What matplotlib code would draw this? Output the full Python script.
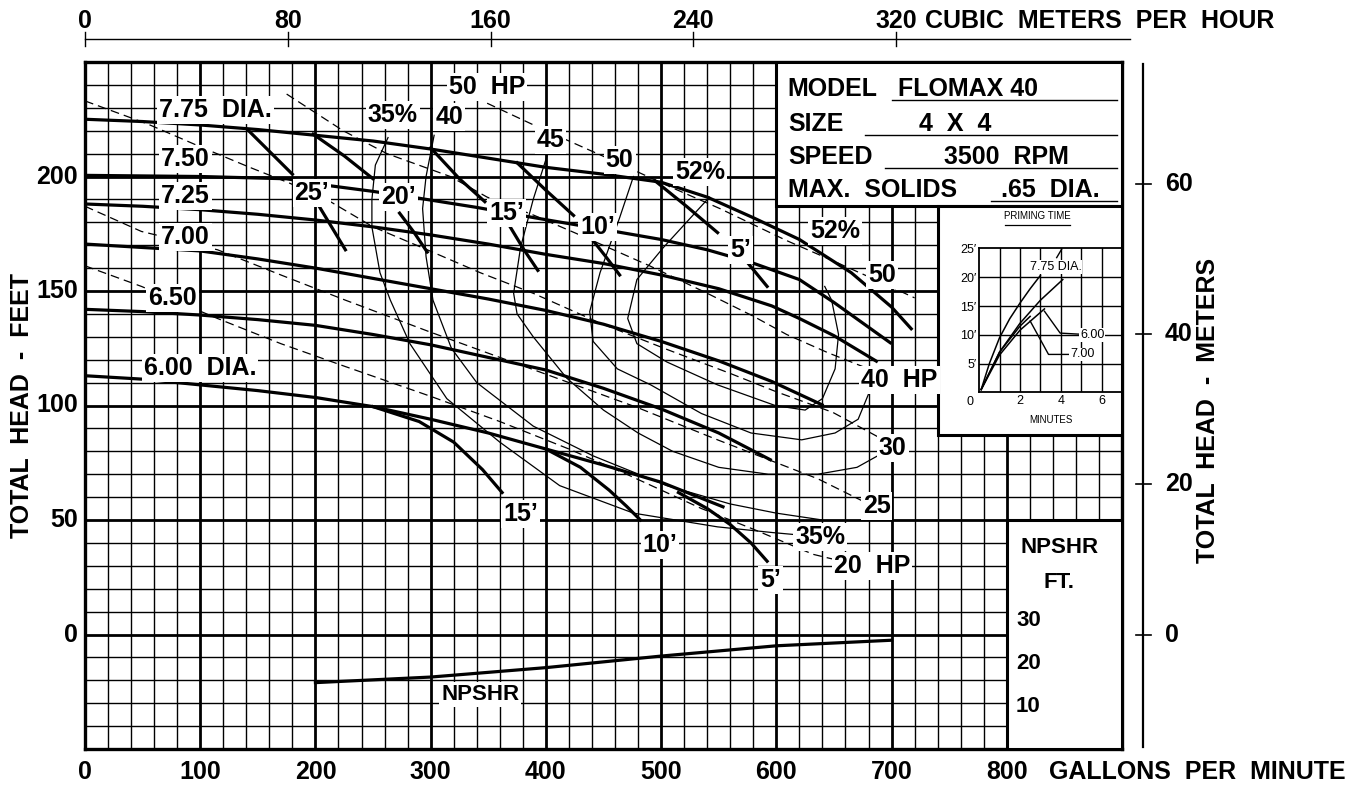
import matplotlib
matplotlib.use("Agg")
import matplotlib.pyplot as plt
from matplotlib import font_manager
from matplotlib.patches import Rectangle
import numpy as np

# ---- head / capacity curves, one per impeller diameter (gpm, ft) ----
DIA_775 = [(0, 225), (50, 224), (100, 222.5), (150, 220.5), (200, 218), (250, 215.5),
           (300, 212), (350, 208), (400, 204), (450, 201), (500, 197.5), (540, 191),
           (580, 182), (620, 172.5), (665, 158), (700, 143), (718, 133)]
DIA_750 = [(0, 200.5), (100, 200), (175, 199), (212, 196), (250, 193.5), (290, 190.5),
           (340, 186.5), (390, 182), (460, 176), (500, 172.5), (540, 168), (578, 162.5),
           (620, 155), (650, 145), (700, 127)]
DIA_725 = [(0, 188), (50, 187), (100, 185.5), (150, 183.5), (200, 181), (250, 178),
           (300, 174.5), (350, 170.5), (400, 166), (450, 162), (500, 157), (550, 151),
           (596, 143.5), (620, 138), (650, 130.5), (688, 119)]
DIA_700 = [(0, 170.5), (50, 169), (100, 167.5), (150, 164), (200, 160), (250, 155.5),
           (300, 151), (350, 146.5), (400, 141.5), (450, 135.5), (500, 128), (550, 119.5),
           (596, 110.5), (641, 100)]
DIA_650 = [(0, 142), (50, 141), (100, 139.5), (150, 137.5), (200, 135), (250, 131),
           (300, 126.5), (350, 121), (400, 115.5), (450, 107.5), (500, 98.5), (550, 88),
           (596, 76)]
DIA_600 = [(0, 113), (50, 111.5), (100, 109), (150, 106.5), (200, 103.5), (250, 99.5),
           (300, 94), (350, 88), (400, 81), (450, 74), (500, 66.5), (530, 60.5), (555, 55.5)]

# ---- NPSH required iso-lines (upper part / part below label) ----
NPSH_25 = [[(142, 220), (162, 210), (180, 201)], [(202, 188), (214, 178), (226, 168)]]
NPSH_20 = [[(198, 218.5), (225, 209), (250, 199)], [(273, 184), (285, 176), (297, 167)]]
NPSH_15 = [[(300, 212.5), (325, 199), (347, 189)], [(369, 178), (381, 168), (393, 159)]]
NPSH_10 = [[(375, 206), (400, 194), (424, 183)], [(441, 172), (452, 165), (464, 157)]]
NPSH_5 = [[(495, 198), (522, 187), (549, 175.5)], [(574, 163), (583, 157.5), (592, 152)]]
NPSH_15_LOW = [(250, 99.5), (290, 93), (320, 84), (345, 72), (362, 62)]
NPSH_10_LOW = [(400, 81), (430, 73), (455, 63), (470, 56), (482, 50)]
NPSH_5_LOW = [(515, 62), (540, 55), (560, 48), (578, 40), (592, 32)]

# ---- efficiency contours ----
EFF_35 = [(263, 217), (252, 205), (249, 190), (249, 178), (256, 158), (265, 146), (282, 127),
          (314, 103), (360, 84), (412, 65), (476, 53), (549, 47), (597, 44.5), (630, 43)]
EFF_40 = [(303, 218), (296, 200), (293, 186), (296, 165), (302, 146), (318, 125), (340, 110),
          (389, 91), (441, 78), (505, 65), (560, 57), (600, 53), (640, 50)]
EFF_45 = [(401, 209), (389, 190), (378, 169), (372, 149), (375, 140), (389, 130), (418, 112),
          (450, 98), (480, 88), (510, 80), (550, 73), (593, 70), (636, 70), (670, 73), (695, 80)]
EFF_50 = [(476, 200), (464, 182), (447, 158), (438, 141), (441, 128), (462, 116), (491, 109),
          (535, 96.5), (578, 88), (622, 85), (651, 88), (671, 94), (680, 105), (684, 112)]
EFF_52 = [(542, 191), (502, 169), (479, 155), (471, 138), (479, 127), (505, 119), (549, 109),
          (599, 100), (625, 98), (640, 103), (651, 116), (654, 131), (648, 146), (642, 152)]

# ---- horsepower lines ----
HP_50 = [(349, 232), (400, 220), (458, 207), (510, 195), (551, 186), (609, 172), (650, 163),
         (690, 154), (720, 147)]
HP_40 = [(175, 236), (224, 220), (262, 210), (317, 200), (349, 191), (390, 183), (427, 175),
         (490, 161), (540, 149), (580, 139), (609, 131), (645, 123), (675, 117)]
HP_30 = [(0, 233), (54, 223), (100, 213), (143, 204), (178, 197), (213, 189), (250, 178),
         (297, 168), (343, 158), (389, 149), (447, 136), (505, 124.5), (560, 114), (600, 106),
         (649, 97), (693, 85)]
HP_25 = [(0, 187), (49, 176), (115, 168), (170, 157), (226, 146), (300, 132), (360, 121),
         (420, 110), (480, 99), (549, 85), (595, 76), (636, 68), (660, 62), (680, 57)]
HP_20 = [(0, 161), (49, 152), (115, 138), (170, 127), (226, 117), (300, 104), (360, 93),
         (420, 81), (470, 70), (535, 55), (580, 46), (632, 35), (665, 31)]

# ---- NPSHR curve (gpm, NPSHR ft) ----
NPSHR_GPM = [200, 300, 400, 500, 600, 700]
NPSHR_FT = [15.5, 16.8, 19.0, 21.7, 24.1, 25.4]
NPSHR_LABELS = [30, 20, 10]

# ---- priming time inset (minutes, ft) ----
PRIME_775 = [(0.1, 0.5), (0.5, 5), (1, 9.5), (1.5, 12.8), (2, 15.5), (2.5, 18), (3, 20.3)]
PRIME_B = [(0.1, 0.5), (1, 7), (2, 12), (3, 16), (4.1, 19.6)]
PRIME_700 = [(0.1, 0.5), (1, 7), (2, 11.5), (2.5, 13.2)]
PRIME_600 = [(0.1, 0.5), (1, 6.5), (2, 10.8), (3.2, 14.5)]

GPM_TICKS = [0, 100, 200, 300, 400, 500, 600, 700, 800]
FT_TICKS = [0, 50, 100, 150, 200]
M3H_TICKS = [0, 80, 160, 240, 320]
GPM_PER_M3H = 2.2          # as drawn on this sheet
M_TICKS = [0, 20, 40, 60]
FT_PER_M = 3.2808


def xy(pts):
    a = np.array(pts, dtype=float)
    return a[:, 0], a[:, 1]


names = {f.name for f in font_manager.fontManager.ttflist}
FONT = "Liberation Sans" if "Liberation Sans" in names else "DejaVu Sans"
plt.rcParams["font.family"] = [FONT, "DejaVu Sans"]

fig = plt.figure(figsize=(13.63, 7.88), dpi=100)
ax = fig.add_axes([85 / 1363, 1 - 749 / 788, (1122 - 85) / 1363, (749 - 62) / 788])
ax.set_xlim(0, 900)
ax.set_ylim(-50, 250)
ax.set_xticks([])
ax.set_yticks([])
for s in ax.spines.values():
    s.set_linewidth(2.4)

# grid
for g in range(20, 900, 20):
    ax.axvline(g, color="black", lw=2.0 if g % 100 == 0 else 1.0, zorder=1)
for h in range(-40, 250, 10):
    ax.axhline(h, color="black", lw=2.0 if h % 50 == 0 else 1.0, zorder=1)

# white boxes
for (x0, y0, w, h) in [(600, 187, 300, 63), (740, 87, 160, 100), (800, -50, 100, 100)]:
    ax.add_patch(Rectangle((x0, y0), w, h, facecolor="white", edgecolor="black",
                           lw=2.2, zorder=4))

# curves
for c in [DIA_775, DIA_750, DIA_725, DIA_700, DIA_650, DIA_600]:
    ax.plot(*xy(c), color="black", lw=2.3, zorder=3, solid_capstyle="butt")
for pair in [NPSH_25, NPSH_20, NPSH_15, NPSH_10, NPSH_5]:
    for seg in pair:
        ax.plot(*xy(seg), color="black", lw=2.3, zorder=3)
for c in [NPSH_15_LOW, NPSH_10_LOW, NPSH_5_LOW]:
    ax.plot(*xy(c), color="black", lw=2.3, zorder=3)
for c in [EFF_35, EFF_40, EFF_45, EFF_50, EFF_52]:
    ax.plot(*xy(c), color="black", lw=0.9, zorder=2)
for c in [HP_50, HP_40, HP_30, HP_25, HP_20]:
    ax.plot(*xy(c), color="black", lw=0.9, ls=(0, (7, 4)), zorder=2)

npshr_y = [-50 + v * 1.87 for v in NPSHR_FT]
ax.plot(NPSHR_GPM, npshr_y, color="black", lw=2.3, zorder=3)


def lab(x, y, s, size=18, ha="center"):
    ax.text(x, y, s, ha=ha, va="center", fontsize=size, fontweight="bold", zorder=6,
            bbox=dict(facecolor="white", edgecolor="none", pad=1.5))


# diameter labels
lab(113, 229, "7.75  DIA.")
lab(87, 207.5, "7.50")
lab(87, 191.5, "7.25")
lab(87, 173.5, "7.00")
lab(76, 147, "6.50")
lab(100, 116.5, "6.00  DIA.")
# efficiency + hp labels
lab(349, 239, "50  HP")
lab(267, 227, "35%")
lab(316, 226, "40")
lab(404, 216, "45")
lab(464, 207, "50")
lab(534, 202, "52%")
lab(651, 176, "52%")
lab(692, 157, "50")
lab(707, 111, "40  HP")
lab(701, 81.5, "30")
lab(687, 56, "25")
lab(683, 30, "20  HP")
lab(638, 42.5, "35%")
# npsh labels
lab(197, 193, "25\u2019")
lab(272, 191, "20\u2019")
lab(366, 184, "15\u2019")
lab(445, 178, "10\u2019")
lab(569, 168, "5\u2019")
lab(378, 52.5, "15\u2019")
lab(499, 39, "10\u2019")
lab(595, 24, "5\u2019")
lab(343, -26, "NPSHR", size=16)

# info box
for txt, y in [("MODEL", 238), ("SIZE", 223), ("SPEED", 208.5), ("MAX.  SOLIDS", 194)]:
    ax.text(610, y, txt, ha="left", va="center", fontsize=18, fontweight="bold", zorder=6)
for txt, xc, y, x0 in [("FLOMAX 40", 766, 238, 700), ("4  X  4", 755, 223, 677),
                       ("3500  RPM", 800, 208.5, 694), (".65  DIA.", 838, 194, 786)]:
    ax.text(xc, y, txt, ha="center", va="center", fontsize=18, fontweight="bold", zorder=6)
    ax.plot([x0, 896], [y - 4.8, y - 4.8], color="black", lw=1.0, zorder=6)

# npshr scale box
ax.text(846, 38, "NPSHR", ha="center", va="center", fontsize=16, fontweight="bold", zorder=6)
ax.text(845, 22.5, "FT.", ha="center", va="center", fontsize=16, fontweight="bold", zorder=6)
for v in NPSHR_LABELS:
    ax.text(808, -50 + v * 1.87, str(v), ha="left", va="center", fontsize=16,
            fontweight="bold", zorder=6)

# left / bottom scales
for v in FT_TICKS:
    ax.text(-6, v, str(v), ha="right", va="center", fontsize=18, fontweight="bold",
            clip_on=False)
for v in GPM_TICKS:
    ax.text(v, -60, str(v), ha="center", va="center", fontsize=18, fontweight="bold",
            clip_on=False)
ax.text(837, -60, "GALLONS  PER  MINUTE", ha="left", va="center", fontsize=18,
        fontweight="bold", clip_on=False)
ax.text(-55, 100, "TOTAL  HEAD  -  FEET", rotation=90, ha="center", va="center",
        fontsize=18, fontweight="bold", clip_on=False)

# top scale (cubic meters per hour)
ax.plot([0, 907], [260, 260], color="black", lw=1.0, clip_on=False)
for v in M3H_TICKS:
    g = v * GPM_PER_M3H
    ax.plot([g, g], [257, 263], color="black", lw=1.0, clip_on=False)
    ax.text(g, 268, str(v), ha="center", va="center", fontsize=18, fontweight="bold",
            clip_on=False)
ax.text(729, 268, "CUBIC  METERS  PER  HOUR", ha="left", va="center", fontsize=18,
        fontweight="bold", clip_on=False)

# right scale (meters)
ax.plot([918, 918], [-49, 249], color="black", lw=1.6, clip_on=False)
for v in M_TICKS:
    f = v * FT_PER_M
    ax.plot([912, 925], [f, f], color="black", lw=1.2, clip_on=False)
    ax.text(937, f, str(v), ha="left", va="center", fontsize=18, fontweight="bold",
            clip_on=False)
ax.text(975, 98, "TOTAL  HEAD  -  METERS", rotation=90, ha="center", va="center",
        fontsize=18, fontweight="bold", clip_on=False)

# priming time inset
ins = ax.inset_axes([776, 105.7, 124, 62.9], transform=ax.transData, zorder=5)
ins.set_facecolor("none")
ins.set_xlim(0, 7)
ins.set_ylim(0, 25)
for s in ["left", "bottom", "top"]:
    ins.spines[s].set_linewidth(1.3)
ins.spines["right"].set_visible(False)
for m in range(1, 7):
    ins.axvline(m, color="black", lw=1.0)
for f in range(5, 25, 5):
    ins.axhline(f, color="black", lw=1.0)
ins.set_xticks([2, 4, 6])
ins.set_yticks([5, 10, 15, 20, 25])
ins.set_yticklabels(["5\u2032", "10\u2032", "15\u2032", "20\u2032", "25\u2032"])
ins.tick_params(length=0, labelsize=9, pad=2)
ins.text(-0.3, -0.6, "0", ha="right", va="top", fontsize=9)
for c in [PRIME_775, PRIME_B, PRIME_700, PRIME_600]:
    ins.plot(*xy(c), color="black", lw=1.1)
ins.plot([3.2, 3.97, 5.0], [14.1, 10.3, 10.1], color="black", lw=1.0)
ins.plot([2.5, 3.4, 4.46], [12.4, 6.6, 6.6], color="black", lw=1.0)
ins.plot([3.8, 4.05], [23.4, 24.9], color="black", lw=1.0)
ins.text(3.75, 21.8, "7.75 DIA.", ha="center", va="center", fontsize=9,
         bbox=dict(facecolor="white", edgecolor="none", pad=0.5))
ins.text(5.55, 10.0, "6.00", ha="center", va="center", fontsize=9,
         bbox=dict(facecolor="white", edgecolor="none", pad=0.5))
ins.text(5.05, 6.6, "7.00", ha="center", va="center", fontsize=9,
         bbox=dict(facecolor="white", edgecolor="none", pad=0.5))
ins.text(2.85, 30.6, "PRIMING TIME", ha="center", va="center", fontsize=7)
ins.plot([1.25, 4.45], [29.0, 29.0], color="black", lw=0.9, clip_on=False)
ins.text(3.5, -4.7, "MINUTES", ha="center", va="center", fontsize=7)

fig.savefig("out.png", dpi=100, facecolor="white")
